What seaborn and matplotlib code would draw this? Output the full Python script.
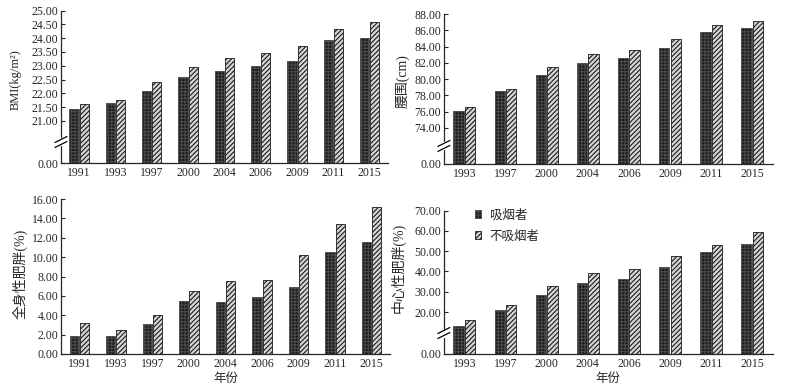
import numpy as np
import pandas as pd
import matplotlib
matplotlib.use('Agg')
import matplotlib.pyplot as plt
from matplotlib.patches import Patch
import seaborn as sns

# 数据
years_all = ['1991', '1993', '1997', '2000', '2004', '2006', '2009', '2011', '2015']
years_waist = ['1993', '1997', '2000', '2004', '2006', '2009', '2011', '2015']

bmi_smoker = [21.42, 21.66, 22.10, 22.60, 22.82, 23.00, 23.18, 23.92, 24.02]
bmi_nonsmoker = [21.60, 21.76, 22.42, 22.94, 23.28, 23.46, 23.70, 24.35, 24.60]

waist_smoker = [76.12, 78.53, 80.57, 81.95, 82.57, 83.80, 85.84, 86.33]
waist_nonsmoker = [76.57, 78.78, 81.55, 83.10, 83.59, 84.98, 86.65, 87.10]

general_smoker = [1.85, 1.88, 3.05, 5.50, 5.40, 5.85, 6.95, 10.50, 11.60]
general_nonsmoker = [3.15, 2.45, 4.05, 6.55, 7.50, 7.60, 10.20, 13.45, 15.15]

central_smoker = [13.5, 20.8, 28.6, 34.2, 36.5, 42.2, 49.6, 53.8]
central_nonsmoker = [16.2, 23.7, 33.0, 39.1, 41.3, 47.6, 52.9, 59.3]

groups = ['吸烟者', '不吸烟者']

sns.set_style('ticks')
plt.rcParams['font.family'] = ['Liberation Serif', 'Noto Sans CJK SC', 'DejaVu Sans']
plt.rcParams['hatch.linewidth'] = 0.8
plt.rcParams['axes.linewidth'] = 0.9

DARK = '#1a1a1a'
LIGHT = '#d6d6d6'


def broken(cut, gap):
    # 断轴：0~cut 之间压缩成 gap 个单位
    def fwd(y):
        y = np.asarray(y, dtype=float)
        return np.where(y >= cut, y, cut - gap + y * gap / cut)

    def inv(v):
        v = np.asarray(v, dtype=float)
        return np.where(v >= cut, v, (v - cut + gap) * cut / gap)
    return fwd, inv


def style_bars(ax):
    for bar in ax.containers[0]:
        bar.set_facecolor(DARK)
        bar.set_edgecolor('#4a4a4a')
        bar.set_hatch('+++++')
        bar.set_linewidth(0.6)
    for bar in ax.containers[1]:
        bar.set_facecolor(LIGHT)
        bar.set_edgecolor('#1a1a1a')
        bar.set_hatch('///////')
        bar.set_linewidth(0.6)


def panel(ax, years, smoker, nonsmoker, ylabel, ticks, top, label_xy,
          cut=None, gap=None, xlabel=None, ylabel_size=10):
    df = pd.DataFrame({
        'year': years + years,
        'value': smoker + nonsmoker,
        'group': [groups[0]] * len(years) + [groups[1]] * len(years),
    })
    sns.barplot(data=df, x='year', y='value', hue='group', hue_order=groups,
                ax=ax, width=0.56, gap=0.1, legend=False,
                palette=[DARK, LIGHT], saturation=1)
    style_bars(ax)
    if cut is not None:
        ax.set_yscale('function', functions=broken(cut, gap))
    ax.set_ylim(0, top)
    ax.set_xlim(-0.5, len(years) - 0.5)
    ax.set_yticks(ticks)
    ax.set_yticklabels([f'{t:.2f}' for t in ticks])
    ax.tick_params(axis='y', direction='in', length=3, width=0.8, labelsize=8.5, pad=2)
    ax.tick_params(axis='x', length=0, labelsize=8.5, pad=3)
    sns.despine(ax=ax)
    ax.set_ylabel(ylabel, fontsize=ylabel_size)
    ax.yaxis.set_label_coords(*label_xy)
    if xlabel:
        ax.set_xlabel(xlabel, fontsize=9, labelpad=2)
    else:
        ax.set_xlabel('')

    if cut is not None:
        fwd, _ = broken(cut, gap)
        frac = float((fwd(cut) - fwd(0)) / (fwd(top) - fwd(0)))
        mid = frac / 2
        fig = ax.figure
        bb = ax.get_position()
        wpx = bb.width * fig.get_figwidth() * fig.dpi
        hpx = bb.height * fig.get_figheight() * fig.dpi
        dx, dy, sep = 6 / wpx, 3 / hpx, 2.5 / hpx
        ax.plot([0, 0], [mid - sep, mid + sep], transform=ax.transAxes,
                color='white', lw=2.5, clip_on=False, zorder=5)
        for s in (-sep, sep):
            ax.plot([-dx, dx], [mid + s - dy, mid + s + dy], transform=ax.transAxes,
                    color='black', lw=0.9, clip_on=False, zorder=6)


fig = plt.figure(figsize=(7.87, 3.92), dpi=100)
ax1 = fig.add_axes([0.0775, 0.584, 0.4155, 0.389])
ax2 = fig.add_axes([0.564, 0.582, 0.418, 0.382])
ax3 = fig.add_axes([0.0775, 0.097, 0.418, 0.395])
ax4 = fig.add_axes([0.564, 0.097, 0.418, 0.3655])

panel(ax1, years_all, bmi_smoker, bmi_nonsmoker, 'BMI(kg/m²)',
      [0] + list(np.arange(21, 25.01, 0.5)), 25, (-0.12, 0.55), cut=21, gap=1.53,
      ylabel_size=9)
panel(ax2, years_waist, waist_smoker, waist_nonsmoker, '腰围(cm)',
      [0] + list(range(74, 89, 2)), 88, (-0.105, 0.55), cut=74, gap=4.41)
panel(ax3, years_all, general_smoker, general_nonsmoker, '全身性肥胖(%)',
      list(range(0, 17, 2)), 16, (-0.102, 0.52), xlabel='年份')
panel(ax4, years_waist, central_smoker, central_nonsmoker, '中心性肥胖(%)',
      [0] + list(range(20, 71, 10)), 70, (-0.116, 0.6), cut=20, gap=20.7, xlabel='年份')

handles = [Patch(facecolor=DARK, edgecolor='#4a4a4a', hatch='+++++', lw=0.6),
           Patch(facecolor=LIGHT, edgecolor='#1a1a1a', hatch='///////', lw=0.6)]
ax4.legend(handles, groups, loc='upper left', bbox_to_anchor=(0.06, 1.09),
           frameon=False, handlelength=0.5, handleheight=0.5, handletextpad=0.7,
           labelspacing=0.7, fontsize=9)

fig.savefig('out.png', dpi=100)
